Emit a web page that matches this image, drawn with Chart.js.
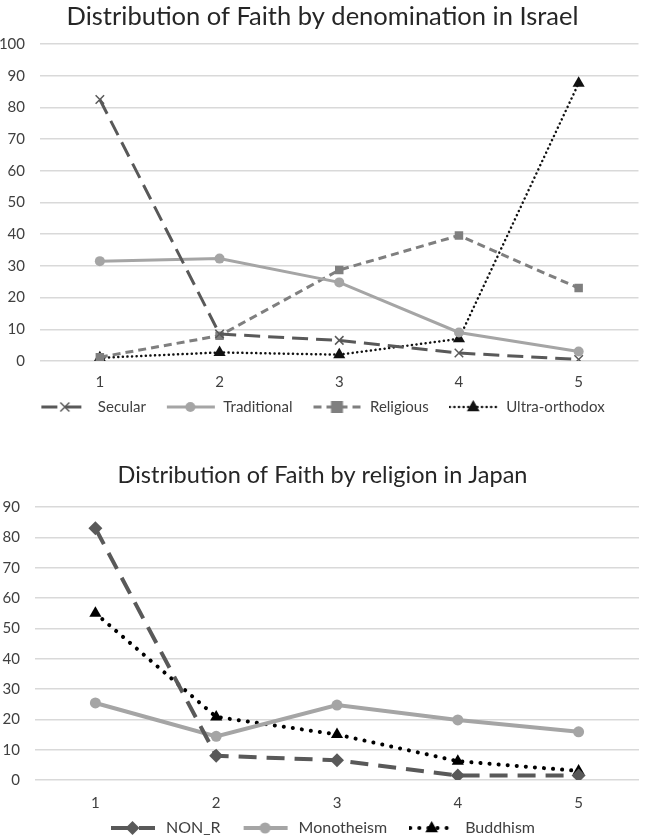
<!DOCTYPE html>
<html>
<head>
<meta charset="utf-8">
<script src="https://cdn.jsdelivr.net/npm/chart.js@4.4.1/dist/chart.umd.min.js"></script>
<style>
  body { margin: 0; background: #fff; overflow: hidden; }
  #top { position: absolute; left: 0; top: 0; width: 646px; height: 430px; }
  #bottom { position: absolute; left: 0; top: 430px; width: 646px; height: 408px; }
</style>
</head>
<body>
<div id="top"><canvas id="israelChart"></canvas></div>
<div id="bottom"><canvas id="japanChart"></canvas></div>
<script>
// x categories shared by both charts
const categories = ['1', '2', '3', '4', '5'];

// Israel, by denomination
const israelTitle = 'Distribution of Faith by denomination in Israel';
const israelSecular = [82.5, 8.5, 6.5, 2.5, 0.5];
const israelTraditional = [31.5, 32.3, 24.8, 9, 3];
const israelReligious = [1.2, 8, 28.7, 39.6, 23];
const israelUltra = [1, 2.7, 2, 7, 87.6];

// Japan, by religion
const japanTitle = 'Distribution of Faith by religion in Japan';
const japanNonR = [83, 8, 6.5, 1.5, 1.5];
const japanMono = [25.4, 14.4, 24.7, 19.8, 15.9];
const japanBuddhism = [55, 20.8, 15, 6.2, 3];

Chart.defaults.font.family = 'Lato, "Open Sans", sans-serif';
Chart.defaults.color = '#404040';

function drawMarker(ctx, style, r, x, y, color, bw) {
  ctx.save();
  ctx.fillStyle = color;
  ctx.strokeStyle = color;
  ctx.lineWidth = bw;
  ctx.setLineDash([]);
  ctx.beginPath();
  if (style === 'circle') {
    ctx.arc(x, y, r, 0, Math.PI * 2);
    ctx.fill();
  } else if (style === 'rect') {
    ctx.rect(x - r, y - r, r * 2, r * 2);
    ctx.fill();
  } else if (style === 'rectRot') {
    ctx.moveTo(x, y - r); ctx.lineTo(x + r, y); ctx.lineTo(x, y + r); ctx.lineTo(x - r, y);
    ctx.closePath();
    ctx.fill();
  } else if (style === 'triangle') {
    ctx.moveTo(x, y - r); ctx.lineTo(x + r * 0.9, y + r * 0.6); ctx.lineTo(x - r * 0.9, y + r * 0.6);
    ctx.closePath();
    ctx.fill();
  } else if (style === 'crossRot') {
    const d = r * 0.75;
    ctx.moveTo(x - d, y - d); ctx.lineTo(x + d, y + d);
    ctx.moveTo(x + d, y - d); ctx.lineTo(x - d, y + d);
    ctx.stroke();
  }
  ctx.restore();
}

// little line + marker picture used in the legend
function swatch(ds, w, len) {
  const c = document.createElement('canvas');
  c.width = w; c.height = 16;
  const ctx = c.getContext('2d');
  ctx.strokeStyle = ds.borderColor;
  ctx.lineWidth = ds.borderWidth;
  ctx.lineCap = ds.borderCapStyle || 'butt';
  ctx.setLineDash(ds.borderDash || []);
  ctx.beginPath();
  ctx.moveTo(1, 8); ctx.lineTo(len, 8);
  ctx.stroke();
  drawMarker(ctx, ds.pointStyle, ds.pointRadius, len / 2, 8, ds.pointBackgroundColor, ds.pointBorderWidth);
  return c;
}

function makeChart(id, title, datasets, yMax, o) {
  new Chart(document.getElementById(id), {
    type: 'line',
    data: { labels: categories, datasets: datasets },
    options: {
      responsive: true,
      maintainAspectRatio: false,
      animation: false,
      layout: { padding: { left: 0, right: 1, top: 0, bottom: o.bottomPad } },
      plugins: {
        title: {
          display: true, text: title, color: '#262626',
          font: { size: o.titleSize, weight: 'normal' },
          padding: { top: o.titleTop, bottom: o.titleBottom }
        },
        legend: {
          position: 'bottom',
          labels: {
            usePointStyle: true, pointStyleWidth: o.swatchW, boxHeight: 14,
            padding: o.legendPad, color: '#404040', font: { size: o.legendSize },
            // en spaces after each label but the last widen the gap between items
            generateLabels: chart => chart.data.datasets.map((ds, i, all) => ({
              text: i < all.length - 1 ? ds.label + '\u2002\u2002' : ds.label,
              pointStyle: swatch(ds, o.swatchW, o.swatchLen), datasetIndex: i,
              lineWidth: 0, hidden: false, fontColor: '#404040'
            }))
          }
        },
        tooltip: { enabled: false }
      },
      scales: {
        x: {
          offset: true,
          grid: { display: false, drawTicks: false },
          border: { display: false },
          ticks: { padding: o.xPad, font: { size: 15 }, color: '#404040' },
          afterFit: scale => { scale.height = o.xHeight; }
        },
        y: {
          min: 0, max: yMax,
          grid: { color: '#d9d9d9', lineWidth: 1.5, drawTicks: false },
          border: { display: false },
          ticks: { stepSize: 10, padding: 15, font: { size: 15 }, color: '#404040' },
          afterFit: scale => { scale.width = o.leftWidth; }
        }
      }
    }
  });
}

makeChart('israelChart', israelTitle, [
  { label: 'Secular', data: israelSecular, borderColor: '#595959', borderWidth: 3,
    borderDash: [16, 8], pointStyle: 'crossRot', pointRadius: 6, pointBorderWidth: 1.5,
    pointBackgroundColor: '#595959', pointBorderColor: '#595959', tension: 0 },
  { label: 'Traditional', data: israelTraditional, borderColor: '#a5a5a5', borderWidth: 3,
    pointStyle: 'circle', pointRadius: 5, pointBorderWidth: 0,
    pointBackgroundColor: '#a5a5a5', pointBorderColor: '#a5a5a5', tension: 0 },
  { label: 'Religious', data: israelReligious, borderColor: '#7f7f7f', borderWidth: 3,
    borderDash: [8, 5], pointStyle: 'rect', pointRadius: 6, pointBorderWidth: 0,
    pointBackgroundColor: '#7f7f7f', pointBorderColor: '#7f7f7f', tension: 0 },
  { label: 'Ultra-orthodox', data: israelUltra, borderColor: '#111', borderWidth: 2.5,
    borderDash: [0.1, 4.5], borderCapStyle: 'round', pointStyle: 'triangle', pointRadius: 7,
    pointBorderWidth: 0, pointBackgroundColor: '#111', pointBorderColor: '#111', tension: 0 }
], 100, { leftWidth: 40, titleSize: 25.5, titleTop: 1.7, titleBottom: 11.7,
  xPad: 12, xHeight: 33.5, legendPad: 5, legendSize: 15, swatchW: 50, swatchLen: 49,
  bottomPad: 5.5 });

makeChart('japanChart', japanTitle, [
  { label: 'NON_R', data: japanNonR, borderColor: '#595959', borderWidth: 4,
    borderDash: [18, 10], pointStyle: 'rectRot', pointRadius: 7, pointBorderWidth: 0,
    pointBackgroundColor: '#595959', pointBorderColor: '#595959', tension: 0 },
  { label: 'Monotheism', data: japanMono, borderColor: '#a5a5a5', borderWidth: 4,
    pointStyle: 'circle', pointRadius: 5.5, pointBorderWidth: 0,
    pointBackgroundColor: '#a5a5a5', pointBorderColor: '#a5a5a5', tension: 0 },
  { label: 'Buddhism', data: japanBuddhism, borderColor: '#000', borderWidth: 4,
    borderDash: [0.1, 9], borderCapStyle: 'round', pointStyle: 'triangle', pointRadius: 7,
    pointBorderWidth: 0, pointBackgroundColor: '#000', pointBorderColor: '#000', tension: 0 }
], 90, { leftWidth: 35, titleSize: 23.5, titleTop: 30.9, titleBottom: 17.9,
  xPad: 14, xHeight: 34, legendPad: 6, legendSize: 16, swatchW: 48, swatchLen: 45,
  bottomPad: -8 });
</script>
</body>
</html>
